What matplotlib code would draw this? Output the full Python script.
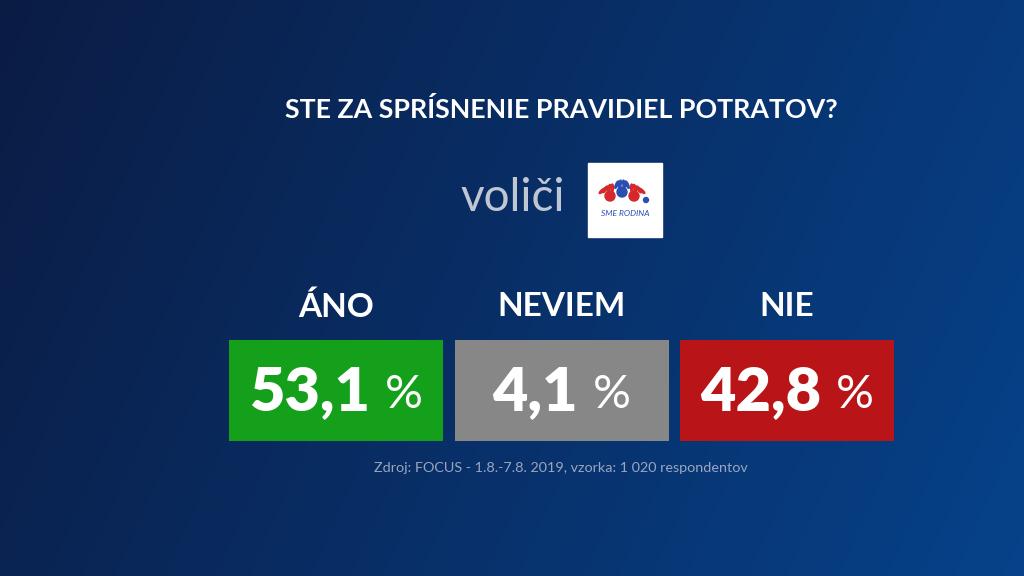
import matplotlib.pyplot as plt
import numpy as np
from matplotlib.patches import Rectangle, Ellipse

categories = ["ÁNO", "NEVIEM", "NIE"]
values = [53.1, 4.1, 42.8]
colors = ["#14a01b", "#878787", "#b91519"]
title = "STE ZA SPRÍSNENIE PRAVIDIEL POTRATOV?"
subtitle = "voliči"
source = "Zdroj: FOCUS - 1.8.-7.8. 2019, vzorka: 1 020 respondentov"

plt.rcParams['font.family'] = ['Lato', 'DejaVu Sans']

fig = plt.figure(figsize=(10.24, 5.76), dpi=100)
ax = fig.add_axes([0, 0, 1, 1])
ax.set_xlim(0, 1024)
ax.set_ylim(576, 0)
ax.axis("off")

# background gradient, dark navy top-left to blue right
gx, gy = np.meshgrid(np.linspace(0, 1, 256), np.linspace(0, 1, 144))
t = np.clip(0.8 * gx + 0.2 * gy, 0, 1)
c0 = np.array([0x0b, 0x1c, 0x44]) / 255
c1 = np.array([0x06, 0x42, 0x8a]) / 255
img = c0[None, None, :] * (1 - t[..., None]) + c1[None, None, :] * t[..., None]
ax.imshow(img, extent=[0, 1024, 576, 0], aspect="auto", zorder=0)

ax.text(561, 110, title, color="white", fontsize=19.3, fontweight="bold",
        ha="center", va="center")
ax.text(513, 198, subtitle, color="#c0c7d2", fontsize=33,
        ha="center", va="center")

# logo: three hands and text
ax.add_patch(Rectangle((588, 163), 74, 74, color="white", zorder=2))
hands = [(610, 196, "#d4282c", -25), (622, 192, "#2a4fb0", 0), (634, 196, "#d4282c", 25)]
for hx, hy, hc, ang in hands:
    ax.add_patch(Ellipse((hx, hy), 10, 10, color=hc, zorder=3))
    for off in [-4, -1.5, 1.5, 4]:
        a = np.deg2rad(ang + off * 6)
        fx = hx + np.sin(a) * 7 + off * 0.6
        fy = hy - np.cos(a) * 8
        ax.add_patch(Ellipse((fx, fy), 2.4, 8, angle=-(ang + off * 6),
                             color=hc, zorder=3))
ax.add_patch(Ellipse((646, 200), 5, 5, color="#2a4fb0", zorder=3))
ax.text(625, 214, "SME RODINA", color="#2a4fb0", fontsize=6, ha="center",
        va="center", zorder=3, fontstyle="italic")

x = np.arange(len(categories)) * 225.5 + 336
bw = 214
ax.bar(x, [101] * len(x), width=bw, bottom=340, color=colors, zorder=2)

fig.canvas.draw()
r = fig.canvas.get_renderer()
gap = 15
for xi, cat, v in zip(x, categories, values):
    ax.text(xi, 307, cat, color="white", fontsize=24, fontweight="bold",
            ha="center", va="center")
    num = f"{v:.1f}".replace(".", ",")
    tn = ax.text(0, 392, num, color="white", fontsize=44,
                 fontweight="heavy", ha="left", va="center", zorder=3)
    tp = ax.text(0, 395, "%", color="white", fontsize=34,
                 ha="left", va="center", zorder=3)
    wn = tn.get_window_extent(r).width
    wp = tp.get_window_extent(r).width
    left = xi - (wn + gap + wp) / 2
    tn.set_x(left)
    tp.set_x(left + wn + gap)

ax.text(561, 468, source, color="#9aa6c0", fontsize=10.4, ha="center", va="center")

fig.savefig("out.png", dpi=100)
